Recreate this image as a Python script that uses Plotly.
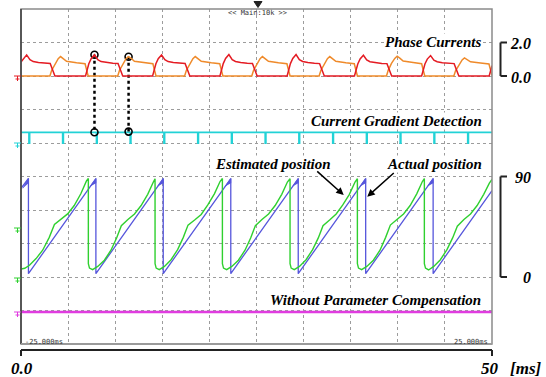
import plotly.graph_objects as go

# ---------------- data ----------------
# time axis in ms
time_range = [0, 50]

# phase current A (red) [A]
red_t = [0, 0.25, 0.6, 0.95, 1.3, 1.85, 2.55, 3.1, 3.6,
         6.85, 7.2, 7.45, 7.8, 8.15, 8.5, 9.05, 9.75, 10.3, 10.8,
         13.97, 14.32, 14.57, 14.92, 15.27, 15.62, 16.17, 16.87, 17.42, 17.92,
         21.12, 21.47, 21.72, 22.07, 22.42, 22.77, 23.32, 24.02, 24.57, 25.07,
         28.25, 28.6, 28.85, 29.2, 29.55, 29.9, 30.45, 31.15, 31.7, 32.2,
         35.4, 35.75, 36.0, 36.35, 36.7, 37.05, 37.6, 38.3, 38.85, 39.35,
         42.53, 42.88, 43.13, 43.48, 43.83, 44.18, 44.73, 45.43, 45.98, 46.48,
         49.7, 50.0]
red_a = [0.84, 1.03, 1.26, 0.97, 0.86, 0.80, 0.76, 0.75, 0,
         0, 0.73, 1.03, 1.27, 0.97, 0.86, 0.80, 0.76, 0.75, 0,
         0, 0.73, 1.03, 1.26, 0.97, 0.86, 0.80, 0.76, 0.75, 0,
         0, 0.74, 1.05, 1.28, 0.98, 0.87, 0.80, 0.76, 0.75, 0,
         0, 0.74, 1.05, 1.28, 0.98, 0.87, 0.80, 0.76, 0.74, 0,
         0, 0.72, 1.02, 1.24, 0.96, 0.85, 0.79, 0.75, 0.74, 0,
         0, 0.72, 1.01, 1.22, 0.95, 0.85, 0.79, 0.75, 0.74, 0,
         0, 0.62]

# phase current B (orange) [A]
orange_t = [0, 3.07, 3.25, 3.6, 3.95, 4.2, 4.48, 4.84, 5.9, 6.6, 6.8, 7.13,
            10.27, 10.45, 10.8, 11.15, 11.4, 11.68, 12.04, 13.1, 13.8, 14.0, 14.33,
            17.37, 17.55, 17.9, 18.25, 18.5, 18.78, 19.14, 20.2, 20.9, 21.1, 21.43,
            24.5, 24.68, 25.03, 25.38, 25.63, 25.91, 26.27, 27.33, 28.03, 28.23, 28.56,
            31.65, 31.83, 32.18, 32.53, 32.78, 33.06, 33.42, 34.48, 35.18, 35.38, 35.71,
            38.8, 38.98, 39.33, 39.68, 39.93, 40.21, 40.57, 41.63, 42.33, 42.53, 42.86,
            45.95, 46.13, 46.48, 46.83, 47.08, 47.36, 47.72, 48.78, 49.48, 49.68, 50.0]
orange_a = [0, 0, 0.33, 0.73, 1.03, 1.16, 1.06, 0.88, 0.79, 0.74, 0.73, 0,
            0, 0.33, 0.73, 1.03, 1.15, 1.06, 0.88, 0.79, 0.74, 0.73, 0,
            0, 0.33, 0.73, 1.03, 1.16, 1.06, 0.88, 0.79, 0.74, 0.73, 0,
            0, 0.33, 0.73, 1.03, 1.16, 1.06, 0.88, 0.79, 0.74, 0.73, 0,
            0, 0.33, 0.73, 1.03, 1.16, 1.06, 0.88, 0.79, 0.74, 0.73, 0,
            0, 0.34, 0.75, 1.05, 1.18, 1.07, 0.89, 0.80, 0.74, 0.73, 0,
            0, 0.31, 0.68, 0.96, 1.08, 1.00, 0.85, 0.78, 0.73, 0.72, 0.02]

# current gradient detection pulses (cyan), in screen divisions
cyan_tick_t = [0.85, 4.43, 8.02, 11.6, 15.18, 18.77, 22.35, 25.93,
               29.51, 33.1, 36.68, 40.26, 43.85, 47.43]
cyan_high = 6.32
cyan_low = 6.0
cyan_width = 0.06

# actual position (blue) [deg]
blue_drop_t = [0.79, 7.95, 15.1, 22.27, 29.43, 36.59, 43.75]
blue_top = 88.2
blue_bottom = 3.0
blue_start = 79.4
blue_end = 77.4
blue_wedge_len = 0.6
blue_wedge_low = [81.0, 84.0]

# estimated position (green) [deg]
green_t = [0, 0.4, 0.9, 1.6, 2.3, 3.0, 3.55, 4.25, 4.95, 5.65, 6.35, 6.95, 7.15,
           7.15, 7.27, 7.6, 8.15, 8.85, 9.55, 10.15, 10.65, 11.35, 12.05, 12.75, 13.45, 14.05, 14.23,
           14.23, 14.35, 14.68, 15.23, 15.93, 16.63, 17.23, 17.73, 18.43, 19.13, 19.83, 20.53, 21.13, 21.38,
           21.38, 21.5, 21.83, 22.38, 23.08, 23.78, 24.38, 24.88, 25.58, 26.28, 26.98, 27.68, 28.28, 28.56,
           28.56, 28.68, 29.01, 29.56, 30.26, 30.96, 31.56, 32.06, 32.76, 33.46, 34.16, 34.86, 35.46, 35.71,
           35.71, 35.83, 36.16, 36.71, 37.41, 38.11, 38.71, 39.21, 39.91, 40.61, 41.31, 42.01, 42.61, 42.82,
           42.82, 42.94, 43.27, 43.82, 44.52, 45.22, 45.82, 46.32, 47.02, 47.72, 48.42, 49.12, 49.72, 50.0]
green_deg = [7.2, 7.8, 10.5, 16.5, 24.0, 35.5, 47.0, 51.5, 56.5, 64.0, 74.5, 86.0, 88.2,
             12, 8, 6.6, 9.5, 15.0, 24.0, 35.0, 46.0, 51.5, 56.5, 64.0, 74.0, 85.0, 88.0,
             12, 8, 6.6, 9.5, 15.5, 24.5, 35.5, 46.5, 51.0, 56.0, 64.5, 74.5, 85.5, 88.2,
             12, 8, 6.6, 9.5, 15.0, 24.0, 35.0, 46.0, 51.5, 56.5, 64.0, 74.0, 85.0, 88.0,
             12, 8, 6.6, 9.5, 15.5, 24.5, 35.0, 46.0, 51.0, 56.5, 64.5, 74.0, 85.0, 88.0,
             12, 8, 6.6, 9.5, 15.0, 24.0, 35.5, 46.5, 51.5, 56.5, 64.0, 74.5, 85.5, 88.2,
             12, 8, 6.3, 9.5, 15.5, 24.5, 35.0, 45.5, 51.5, 56.5, 64.0, 74.0, 84.0, 87.4]

# "without parameter compensation" channel (magenta), in screen divisions
magenta_t = [0, 50]
magenta_div = [0.955, 0.955]

# dotted markers linking current peaks to detection pulses (t, divisions)
link_t = [7.8, 11.42]
link_top_div = [8.635, 8.575]
link_bottom_div = [6.32, 6.34]

# labels
scale_cur = ["2.0", "0.0"]
scale_pos = ["90", "0"]
x_labels = ["0.0", "50", "[ms]"]

# ---------------- figure ----------------
L, R, T, B = 21, 54, 9, 33
W, H = 546, 377
PW, PH = W - L - R, H - T - B


def px(x):
    return (x - L) / PW


def py(y):
    return (H - B - y) / PH


fig = go.Figure()

RED = "#e41b23"
ORANGE = "#ef8a2a"
CYAN = "#22d2d6"
BLUE = "#5656dc"
GREEN = "#2fd02f"
MAGENTA = "#e03ce0"

# magenta
fig.add_trace(go.Scatter(x=magenta_t, y=magenta_div, mode="lines", yaxis="y",
                         line=dict(color=MAGENTA, width=2.4), hoverinfo="skip"))

# cyan detection trace
cx, cy = [time_range[0]], [cyan_high]
for t in cyan_tick_t:
    cx += [t, t, t + cyan_width, t + cyan_width]
    cy += [cyan_high, cyan_low, cyan_low, cyan_high]
cx.append(time_range[1])
cy.append(cyan_high)
fig.add_trace(go.Scatter(x=cx, y=cy, mode="lines", yaxis="y",
                         line=dict(color=CYAN, width=1.8), hoverinfo="skip"))

# phase currents
fig.add_trace(go.Scatter(x=orange_t, y=orange_a, mode="lines", yaxis="y2",
                         line=dict(color=ORANGE, width=1.5), hoverinfo="skip"))
fig.add_trace(go.Scatter(x=red_t, y=red_a, mode="lines", yaxis="y2",
                         line=dict(color=RED, width=1.5), hoverinfo="skip"))

# actual position (blue)
bx, by = [time_range[0]], [blue_start]
for d in blue_drop_t:
    bx += [d, d]
    by += [blue_top, blue_bottom]
bx.append(time_range[1])
by.append(blue_end)
wx, wy = [], []
for i, d in enumerate(blue_drop_t):
    lo = blue_wedge_low[0] if i else blue_start
    wx += [max(d - blue_wedge_len, 0), d, d, None]
    wy += [lo, blue_top, blue_wedge_low[1], None]
fig.add_trace(go.Scatter(x=wx, y=wy, mode="lines", yaxis="y3", fill="toself",
                         fillcolor=BLUE, line=dict(color=BLUE, width=0.8),
                         hoverinfo="skip"))
fig.add_trace(go.Scatter(x=bx, y=by, mode="lines", yaxis="y3",
                         line=dict(color=BLUE, width=1.3), hoverinfo="skip"))

# estimated position (green)
fig.add_trace(go.Scatter(x=green_t, y=green_deg, mode="lines", yaxis="y3",
                         line=dict(color=GREEN, width=1.4), hoverinfo="skip"))

# dotted link lines
for t, a, b in zip(link_t, link_top_div, link_bottom_div):
    fig.add_trace(go.Scatter(x=[t, t], y=[a, b], mode="lines+markers", yaxis="y",
                             line=dict(color="black", width=2.5, dash="dot"),
                             marker=dict(symbol="circle-open", size=7, color="black",
                                         line=dict(width=1.6, color="black")),
                             hoverinfo="skip"))

grid = dict(showgrid=True, gridcolor="#9c9c9c", gridwidth=1, griddash="dot",
            zeroline=False, showticklabels=False, ticks="", showline=False, fixedrange=True)

fig.update_layout(
    width=W, height=H, margin=dict(l=L, r=R, t=T, b=B, pad=0),
    paper_bgcolor="white", plot_bgcolor="white", showlegend=False,
    xaxis=dict(range=time_range, dtick=5, tick0=0, **grid),
    yaxis=dict(range=[0, 10], dtick=1, tick0=0, **grid),
    yaxis2=dict(range=[-16, 4], overlaying="y", visible=False, fixedrange=True),
    yaxis3=dict(range=[-60, 240], overlaying="y", visible=False, fixedrange=True),
)

shapes = []
# frame
shapes.append(dict(type="rect", xref="paper", yref="paper", x0=0, x1=1, y0=0, y1=1,
                   line=dict(color="#8a8a8a", width=1.5)))
shapes.append(dict(type="line", xref="paper", yref="paper", x0=0, x1=0, y0=0, y1=1,
                   line=dict(color="#3c3c3c", width=1.5)))
shapes.append(dict(type="line", xref="paper", yref="paper", x0=0, x1=1, y0=0, y1=0,
                   line=dict(color="#9a9a9a", width=2)))
# bottom time bracket
yb, ye = py(350), py(356)
shapes += [
    dict(type="line", xref="paper", yref="paper", x0=0, x1=1, y0=yb, y1=yb,
         line=dict(color="#222", width=2)),
    dict(type="line", xref="paper", yref="paper", x0=0, x1=0, y0=yb, y1=ye,
         line=dict(color="#222", width=2)),
    dict(type="line", xref="paper", yref="paper", x0=1, x1=1, y0=yb, y1=ye,
         line=dict(color="#222", width=2)),
]
# right scale brackets
for ytop, ybot in [(42.5, 76), (176.5, 277)]:
    xa, xb = px(500.5), px(507)
    shapes += [
        dict(type="line", xref="paper", yref="paper", x0=xa, x1=xa, y0=py(ytop), y1=py(ybot),
             line=dict(color="#222", width=2)),
        dict(type="line", xref="paper", yref="paper", x0=xa, x1=xb, y0=py(ytop), y1=py(ytop),
             line=dict(color="#222", width=2)),
        dict(type="line", xref="paper", yref="paper", x0=xa, x1=xb, y0=py(ybot), y1=py(ybot),
             line=dict(color="#222", width=2)),
    ]
# channel markers on the left edge
for yy, col in [(76, RED), (143, CYAN), (228, GREEN), (278, GREEN), (312, MAGENTA)]:
    shapes += [
        dict(type="line", xref="paper", yref="paper", x0=px(14), x1=px(21), y0=py(yy), y1=py(yy),
             line=dict(color=col, width=1)),
        dict(type="line", xref="paper", yref="paper", x0=px(17.5), x1=px(17.5), y0=py(yy), y1=py(yy + 5),
             line=dict(color=col, width=1)),
        dict(type="line", xref="paper", yref="paper", x0=px(15.5), x1=px(19.5), y0=py(yy + 3), y1=py(yy + 3),
             line=dict(color=col, width=1)),
    ]
# trigger mark at top
shapes.append(dict(type="path", xref="paper", yref="paper",
                   path=f"M {px(254)},{py(1.5)} L {px(262)},{py(1.5)} L {px(258)},{py(7.5)} Z",
                   fillcolor="#222", line=dict(color="#222", width=1)))
fig.update_layout(shapes=shapes)

SERIF = "Liberation Serif"
ann = []


def lab(text, x, y, size=15, xanchor="right", bg="white"):
    ann.append(dict(text=f"<b><i>{text}</i></b>", x=px(x), y=py(y), xref="paper", yref="paper",
                    xanchor=xanchor, yanchor="middle", showarrow=False,
                    font=dict(family=SERIF, size=size, color="black"),
                    bgcolor=bg, borderpad=0))


lab("Phase Currents", 481.5, 42)
lab("Current Gradient Detection", 483, 120.5)
lab("Estimated position", 273, 163.5, xanchor="center")
lab("Actual position", 482.5, 163.5)
lab("Without Parameter Compensation", 481.5, 299.5)

lab(scale_cur[0], 531.5, 43.5, size=16, bg=None)
lab(scale_cur[1], 531.5, 77, size=16, bg=None)
lab(scale_pos[0], 531.5, 177, size=16, bg=None)
lab(scale_pos[1], 531.5, 277.5, size=16, bg=None)

lab(x_labels[0], 9.5, 368.5, size=17, xanchor="left", bg=None)
lab(x_labels[1], 499.5, 368.5, size=17, bg=None)
lab(x_labels[2], 525.5, 368.5, size=17, xanchor="center", bg=None)

MONO = "DejaVu Sans Mono"
ann.append(dict(text="<< Main:10k >>", x=px(257.5), y=py(13.5), xref="paper", yref="paper",
                xanchor="center", yanchor="middle", showarrow=False,
                font=dict(family=MONO, size=7, color="#333")))
ann.append(dict(text="-25.000ms", x=px(23), y=py(341.5), xref="paper", yref="paper",
                xanchor="left", yanchor="middle", showarrow=False,
                font=dict(family=MONO, size=7, color="#333")))
ann.append(dict(text="25.000ms", x=px(490), y=py(341.5), xref="paper", yref="paper",
                xanchor="right", yanchor="middle", showarrow=False,
                font=dict(family=MONO, size=7, color="#333")))

# arrows to the two position traces
ann.append(dict(text="", x=34.26, y=73.4, xref="x", yref="y3", ax=-28, ay=-25,
                showarrow=True, arrowhead=2, arrowsize=1, arrowwidth=1.5, arrowcolor="black"))
ann.append(dict(text="", x=36.76, y=71.9, xref="x", yref="y3", ax=28, ay=-25,
                showarrow=True, arrowhead=2, arrowsize=1, arrowwidth=1.5, arrowcolor="black"))

fig.update_layout(annotations=ann)

fig.write_html("out.html")
